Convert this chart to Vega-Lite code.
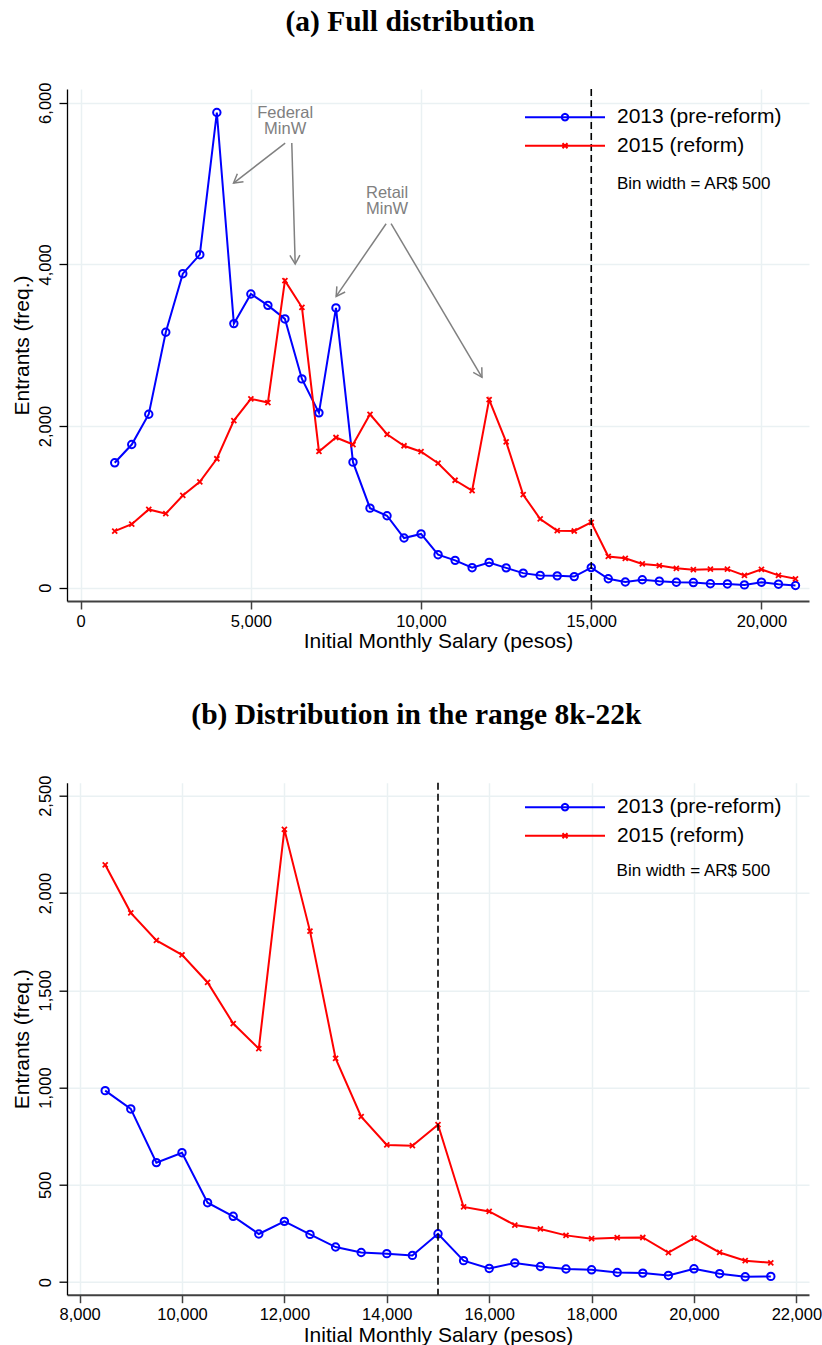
{
  "$schema": "https://vega.github.io/schema/vega-lite/v6.json",
  "background": "white",
  "padding": {"left": 10, "top": 6, "right": 0, "bottom": 0},
  "spacing": 46.7,
  "datasets": {
    "d": [
      {"s": 1000, "a": 1545, "b": 700},
      {"s": 1500, "a": 1771, "b": 786},
      {"s": 2000, "a": 2146, "b": 968},
      {"s": 2500, "a": 3160, "b": 915},
      {"s": 3000, "a": 3885, "b": 1141},
      {"s": 3500, "a": 4120, "b": 1310},
      {"s": 4000, "a": 5879, "b": 1595},
      {"s": 4500, "a": 3267, "b": 2068},
      {"s": 5000, "a": 3634, "b": 2336},
      {"s": 5500, "a": 3493, "b": 2290},
      {"s": 6000, "a": 3325, "b": 3799},
      {"s": 6500, "a": 2583, "b": 3469},
      {"s": 7000, "a": 2163, "b": 1685},
      {"s": 7500, "a": 3461, "b": 1858},
      {"s": 8000, "a": 1553, "b": 1771},
      {"s": 8500, "a": 984, "b": 2145},
      {"s": 9000, "a": 890, "b": 1898},
      {"s": 9500, "a": 614, "b": 1756},
      {"s": 10000, "a": 665, "b": 1682},
      {"s": 10500, "a": 408, "b": 1540},
      {"s": 11000, "a": 338, "b": 1329},
      {"s": 11500, "a": 247, "b": 1200},
      {"s": 12000, "a": 312, "b": 2327},
      {"s": 12500, "a": 245, "b": 1804},
      {"s": 13000, "a": 180, "b": 1150},
      {"s": 13500, "a": 152, "b": 850},
      {"s": 14000, "a": 146, "b": 705},
      {"s": 14500, "a": 137, "b": 701},
      {"s": 15000, "a": 248, "b": 809},
      {"s": 15500, "a": 110, "b": 386},
      {"s": 16000, "a": 70, "b": 363},
      {"s": 16500, "a": 98, "b": 293},
      {"s": 17000, "a": 80, "b": 273},
      {"s": 17500, "a": 67, "b": 240},
      {"s": 18000, "a": 63, "b": 223},
      {"s": 18500, "a": 49, "b": 228},
      {"s": 19000, "a": 46, "b": 229},
      {"s": 19500, "a": 34, "b": 151},
      {"s": 20000, "a": 68, "b": 226},
      {"s": 20500, "a": 43, "b": 152},
      {"s": 21000, "a": 27, "b": 110},
      {"s": 21500, "a": 29, "b": 99}
    ],
    "arrows": [
      {"id": 1, "x": 6008, "y": 5501, "x2": 4491, "y2": 5006},
      {"id": 2, "x": 6202, "y": 5501, "x2": 6302, "y2": 4005},
      {"id": 3, "x": 8973, "y": 4503, "x2": 7505, "y2": 3604},
      {"id": 4, "x": 9119, "y": 4503, "x2": 11790, "y2": 2603}
    ]
  },
  "config": {
    "view": {"stroke": null},
    "font": "Liberation Sans",
    "axis": {
      "grid": true,
      "gridColor": "#eaf1f3",
      "gridWidth": 1.5,
      "tickSize": 8,
      "labelFont": "Liberation Sans",
      "titleFont": "Liberation Sans",
      "labelFontSize": 16.5,
      "titleFontSize": 21,
      "titleFontWeight": "normal",
      "labelColor": "black",
      "titleColor": "black",
      "labelOverlap": false,
      "labelFlush": false
    },
    "axisX": {
      "domainColor": "#404040",
      "domainWidth": 2,
      "tickColor": "#404040",
      "tickWidth": 1.5,
      "labelPadding": 4,
      "titlePadding": 1
    },
    "axisY": {
      "domainColor": "black",
      "domainWidth": 1.3,
      "tickColor": "black",
      "tickWidth": 1.3,
      "labelAngle": -90,
      "labelAlign": "center",
      "labelBaseline": "alphabetic",
      "labelPadding": 9,
      "titlePadding": 5
    },
    "title": {
      "font": "Liberation Serif",
      "fontSize": 29.5,
      "fontWeight": "bold",
      "color": "black",
      "anchor": "middle",
      "frame": "bounds",
      "baseline": "alphabetic",
      "offset": 45
    },
    "legend": {
      "orient": "none",
      "title": null,
      "labelFont": "Liberation Sans",
      "labelFontSize": 21,
      "labelColor": "black",
      "labelLimit": 400,
      "symbolSize": 400,
      "symbolStrokeWidth": 2,
      "labelOffset": 41,
      "rowPadding": 7.6,
      "padding": 0
    }
  },
  "resolve": {"scale": {"color": "independent", "x": "independent", "y": "independent"}, "legend": {"color": "independent"}},
  "vconcat": [
    {
      "title": {"text": "(a) Full distribution"},
      "width": 742,
      "height": 512,
      "layer": [
        {
          "data": {"name": "d"},
          "transform": [{"filter": "datum.s <= 21000"}, {"fold": ["a", "b"], "as": ["k", "n"]}],
          "mark": {"type": "line", "strokeWidth": 2},
          "encoding": {
            "x": {"field": "s", "type": "quantitative", "scale": {"domain": [-402, 21397], "nice": false, "zero": false},
                  "axis": {"values": [0, 5000, 10000, 15000, 20000], "format": ",d", "title": "Initial Monthly Salary (pesos)"}},
            "y": {"field": "n", "type": "quantitative", "scale": {"domain": [-165, 6170], "nice": false, "zero": false},
                  "axis": {"values": [0, 2000, 4000, 6000], "format": ",d", "title": "Entrants (freq.)"}},
            "color": {"field": "k", "type": "nominal", "scale": {"domain": ["a", "b"], "range": ["#0000ff", "#ff0000"]},
                      "legend": {"legendX": 487, "legendY": 17.2,
                                 "labelExpr": "datum.value === 'a' ? '2013 (pre-reform)' : '2015 (reform)'",
                                 "encode": {"symbols": {"update": {
                                   "fill": {"value": "transparent"},
                                   "shape": {"signal": "datum.value === 'a' ? 'M-4,0H4M0.33,0L0.286,0.165L0.165,0.286L0,0.33L-0.165,0.286L-0.286,0.165L-0.33,0L-0.286,-0.165L-0.165,-0.286L0,-0.33L0.165,-0.286L0.286,-0.165Z' : 'M-4,0H4M-0.25,-0.25L0.25,0.25M-0.25,0.25L0.25,-0.25'"}
                                 }}}}}
          }
        },
        {
          "data": {"name": "d"},
          "transform": [{"filter": "datum.s <= 21000"}],
          "mark": {"type": "point", "shape": "circle", "filled": false, "size": 55, "strokeWidth": 2, "color": "#0000ff", "opacity": 1},
          "encoding": {"x": {"field": "s", "type": "quantitative"}, "y": {"field": "a", "type": "quantitative"}}
        },
        {
          "data": {"name": "d"},
          "transform": [{"filter": "datum.s <= 21000"}],
          "mark": {"type": "point", "shape": "M-1,-1L1,1M-1,1L1,-1", "filled": false, "size": 25, "strokeWidth": 1.8, "color": "#ff0000", "opacity": 1},
          "encoding": {"x": {"field": "s", "type": "quantitative"}, "y": {"field": "b", "type": "quantitative"}}
        },
        {
          "data": {"values": [{}]},
          "mark": {"type": "rule", "strokeDash": [7, 4], "strokeWidth": 1.6, "color": "black"},
          "encoding": {"x": {"datum": 15000, "type": "quantitative"}}
        },
        {
          "data": {"name": "arrows"},
          "mark": {"type": "rule", "color": "#808080", "strokeWidth": 1.5},
          "encoding": {"x": {"field": "x", "type": "quantitative"}, "y": {"field": "y", "type": "quantitative"},
                       "x2": {"field": "x2"}, "y2": {"field": "y2"}}
        },
        {
          "data": {"name": "arrows"},
          "transform": [{"filter": "datum.id == 1"}],
          "mark": {"type": "point", "shape": "M-0.5,0.87L0,0L0.5,0.87", "size": 400, "filled": false, "color": "#808080", "strokeWidth": 1.5, "opacity": 1, "angle": 232},
          "encoding": {"x": {"field": "x2", "type": "quantitative"}, "y": {"field": "y2", "type": "quantitative"}}
        },
        {
          "data": {"name": "arrows"},
          "transform": [{"filter": "datum.id == 2"}],
          "mark": {"type": "point", "shape": "M-0.5,0.87L0,0L0.5,0.87", "size": 400, "filled": false, "color": "#808080", "strokeWidth": 1.5, "opacity": 1, "angle": 178},
          "encoding": {"x": {"field": "x2", "type": "quantitative"}, "y": {"field": "y2", "type": "quantitative"}}
        },
        {
          "data": {"name": "arrows"},
          "transform": [{"filter": "datum.id == 3"}],
          "mark": {"type": "point", "shape": "M-0.5,0.87L0,0L0.5,0.87", "size": 400, "filled": false, "color": "#808080", "strokeWidth": 1.5, "opacity": 1, "angle": 214},
          "encoding": {"x": {"field": "x2", "type": "quantitative"}, "y": {"field": "y2", "type": "quantitative"}}
        },
        {
          "data": {"name": "arrows"},
          "transform": [{"filter": "datum.id == 4"}],
          "mark": {"type": "point", "shape": "M-0.5,0.87L0,0L0.5,0.87", "size": 400, "filled": false, "color": "#808080", "strokeWidth": 1.5, "opacity": 1, "angle": 149},
          "encoding": {"x": {"field": "x2", "type": "quantitative"}, "y": {"field": "y2", "type": "quantitative"}}
        },
        {
          "data": {"values": [{}]},
          "mark": {"type": "text", "text": ["Federal", "MinW"], "fontSize": 16.5, "lineHeight": 16, "color": "#808080", "align": "center", "baseline": "middle", "font": "Liberation Sans"},
          "encoding": {"x": {"datum": 6008, "type": "quantitative"}, "y": {"datum": 5870, "type": "quantitative"}}
        },
        {
          "data": {"values": [{}]},
          "mark": {"type": "text", "text": ["Retail", "MinW"], "fontSize": 16.5, "lineHeight": 16, "color": "#808080", "align": "center", "baseline": "middle", "font": "Liberation Sans"},
          "encoding": {"x": {"datum": 9002, "type": "quantitative"}, "y": {"datum": 4880, "type": "quantitative"}}
        },
        {
          "data": {"values": [{}]},
          "mark": {"type": "text", "text": "Bin width = AR$ 500", "fontSize": 17, "color": "black", "align": "left", "baseline": "middle", "font": "Liberation Sans"},
          "encoding": {"x": {"datum": 15753, "type": "quantitative"}, "y": {"datum": 4990, "type": "quantitative"}}
        }
      ]
    },
    {
      "title": {"text": "(b) Distribution in the range 8k-22k"},
      "width": 742,
      "height": 512,
      "layer": [
        {
          "data": {"name": "d"},
          "transform": [{"filter": "datum.s >= 8500"}, {"fold": ["a", "b"], "as": ["k", "n"]}],
          "mark": {"type": "line", "strokeWidth": 2},
          "encoding": {
            "x": {"field": "s", "type": "quantitative", "scale": {"domain": [7754, 22246], "nice": false, "zero": false},
                  "axis": {"values": [8000, 10000, 12000, 14000, 16000, 18000, 20000, 22000], "format": ",d", "title": "Initial Monthly Salary (pesos)"}},
            "y": {"field": "n", "type": "quantitative", "scale": {"domain": [-65, 2567], "nice": false, "zero": false},
                  "axis": {"values": [0, 500, 1000, 1500, 2000, 2500], "format": ",d", "title": "Entrants (freq.)"}},
            "color": {"field": "k", "type": "nominal", "scale": {"domain": ["a", "b"], "range": ["#0000ff", "#ff0000"]},
                      "legend": {"legendX": 487, "legendY": 13.5,
                                 "labelExpr": "datum.value === 'a' ? '2013 (pre-reform)' : '2015 (reform)'",
                                 "encode": {"symbols": {"update": {
                                   "fill": {"value": "transparent"},
                                   "shape": {"signal": "datum.value === 'a' ? 'M-4,0H4M0.33,0L0.286,0.165L0.165,0.286L0,0.33L-0.165,0.286L-0.286,0.165L-0.33,0L-0.286,-0.165L-0.165,-0.286L0,-0.33L0.165,-0.286L0.286,-0.165Z' : 'M-4,0H4M-0.25,-0.25L0.25,0.25M-0.25,0.25L0.25,-0.25'"}
                                 }}}}}
          }
        },
        {
          "data": {"name": "d"},
          "transform": [{"filter": "datum.s >= 8500"}],
          "mark": {"type": "point", "shape": "circle", "filled": false, "size": 55, "strokeWidth": 2, "color": "#0000ff", "opacity": 1},
          "encoding": {"x": {"field": "s", "type": "quantitative"}, "y": {"field": "a", "type": "quantitative"}}
        },
        {
          "data": {"name": "d"},
          "transform": [{"filter": "datum.s >= 8500"}],
          "mark": {"type": "point", "shape": "M-1,-1L1,1M-1,1L1,-1", "filled": false, "size": 25, "strokeWidth": 1.8, "color": "#ff0000", "opacity": 1},
          "encoding": {"x": {"field": "s", "type": "quantitative"}, "y": {"field": "b", "type": "quantitative"}}
        },
        {
          "data": {"values": [{}]},
          "mark": {"type": "rule", "strokeDash": [7, 4], "strokeWidth": 1.6, "color": "black"},
          "encoding": {"x": {"datum": 15000, "type": "quantitative"}}
        },
        {
          "data": {"values": [{}]},
          "mark": {"type": "text", "text": "Bin width = AR$ 500", "fontSize": 17, "color": "black", "align": "left", "baseline": "middle", "font": "Liberation Sans"},
          "encoding": {"x": {"datum": 18488, "type": "quantitative"}, "y": {"datum": 2114, "type": "quantitative"}}
        }
      ]
    }
  ]
}
